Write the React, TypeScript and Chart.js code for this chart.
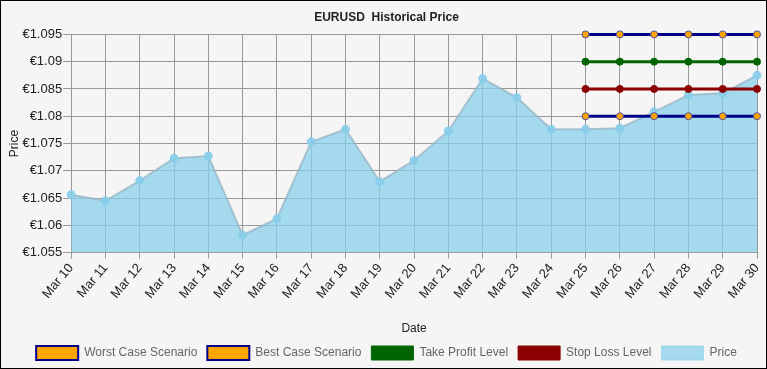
import React, { useEffect, useRef } from "react";
import { Chart, registerables } from "chart.js";

Chart.register(...registerables);

const categories = ["Mar 10","Mar 11","Mar 12","Mar 13","Mar 14","Mar 15","Mar 16","Mar 17","Mar 18","Mar 19","Mar 20","Mar 21","Mar 22","Mar 23","Mar 24","Mar 25","Mar 26","Mar 27","Mar 28","Mar 29","Mar 30"];
const priceValues = [1.0656,1.0645,1.0682,1.0723,1.0727,1.0582,1.0612,1.0753,1.0776,1.0680,1.0719,1.0773,1.0869,1.0834,1.0776,1.0776,1.0778,1.0808,1.0839,1.0842,1.0875];
const worstCase = [null,null,null,null,null,null,null,null,null,null,null,null,null,null,null,1.08,1.08,1.08,1.08,1.08,1.08];
const bestCase = [null,null,null,null,null,null,null,null,null,null,null,null,null,null,null,1.095,1.095,1.095,1.095,1.095,1.095];
const takeProfit = [null,null,null,null,null,null,null,null,null,null,null,null,null,null,null,1.09,1.09,1.09,1.09,1.09,1.09];
const stopLoss = [null,null,null,null,null,null,null,null,null,null,null,null,null,null,null,1.085,1.085,1.085,1.085,1.085,1.085];
const yMin = 1.055;
const yMax = 1.095;
const yStep = 0.005;

export default function App() {
  const ref = useRef<HTMLCanvasElement | null>(null);
  useEffect(() => {
    document.body.style.margin = "0";
    Chart.defaults.font.family = "'Liberation Sans', Arial, sans-serif";
    const ctx = ref.current!;
    const levelDs = (label: string, data: (number | null)[], line: string, pt: string, ptBorder: string) => ({
      label,
      data,
      borderColor: line,
      backgroundColor: pt,
      borderWidth: 3,
      pointRadius: 3.5,
      pointBackgroundColor: pt,
      pointBorderColor: ptBorder,
      pointBorderWidth: 1,
      fill: false,
      spanGaps: false,
      clip: false,
    });
    const chart = new Chart(ctx, {
      type: "line",
      data: {
        labels: categories,
        datasets: [
          levelDs("Worst Case Scenario", worstCase, "#00008b", "#ffa500", "#5050a0"),
          levelDs("Best Case Scenario", bestCase, "#00008b", "#ffa500", "#5050a0"),
          levelDs("Take Profit Level", takeProfit, "#006400", "#006400", "#006400"),
          levelDs("Stop Loss Level", stopLoss, "#8b0000", "#8b0000", "#8b0000"),
          {
            label: "Price",
            data: priceValues,
            borderColor: "rgba(150,180,195,0.75)",
            backgroundColor: "rgba(135,206,235,0.72)",
            borderWidth: 2,
            pointRadius: 3.5,
            pointBackgroundColor: "rgba(135,206,235,0.85)",
            pointBorderColor: "rgba(135,206,235,0.85)",
            fill: "start",
          } as any,
        ],
      },
      options: {
        animation: false,
        responsive: false,
        maintainAspectRatio: false,
        layout: { padding: { left: 6, right: 0, top: 0, bottom: -2 } },
        plugins: {
          title: {
            display: true,
            text: "EURUSD  Historical Price",
            color: "#222",
            font: { size: 12, weight: "bold" },
            padding: { top: 9, bottom: 10 },
          },
          legend: {
            position: "bottom",
            labels: {
              boxWidth: 42,
              boxHeight: 14,
              color: "#666",
              font: { size: 12 },
              padding: 10,
              generateLabels: (c: any) => {
                const items = Chart.defaults.plugins.legend.labels.generateLabels(c);
                items.forEach((it: any, i: number) => {
                  it.lineWidth = i < 2 ? 2 : 1;
                  if (i === 4) it.strokeStyle = "rgba(135,206,235,0.72)";
                });
                return items;
              },
            },
          },
          tooltip: { enabled: false },
        },
        scales: {
          x: {
            offset: false,
            grid: { color: "#999", tickLength: 6, drawTicks: true },
            border: { color: "#999" },
            ticks: { color: "#222", font: { size: 13 }, minRotation: 50, maxRotation: 50, autoSkip: false, padding: 2 },
            title: { display: true, text: "Date", color: "#222", font: { size: 12 }, padding: { top: 18, bottom: 0 } },
            afterFit: (s: any) => {
              s.paddingRight = 9;
            },
          },
          y: {
            min: yMin,
            max: yMax,
            grid: { color: "#999", tickLength: 8 },
            border: { color: "#999" },
            ticks: {
              stepSize: yStep,
              color: "#222",
              font: { size: 13 },
              padding: 1,
              callback: (v: any) => "€" + parseFloat(Number(v).toFixed(3)),
            },
            title: { display: true, text: "Price", color: "#222", font: { size: 12 }, padding: { top: 0, bottom: 0 } },
          },
        },
      },
    } as any);
    return () => chart.destroy();
  }, []);
  return (
    <div style={{ width: 767, height: 369, boxSizing: "border-box", border: "1px solid #000", background: "#f5f5f5" }}>
      <canvas ref={ref} width={765} height={367} style={{ display: "block" }} />
    </div>
  );
}
